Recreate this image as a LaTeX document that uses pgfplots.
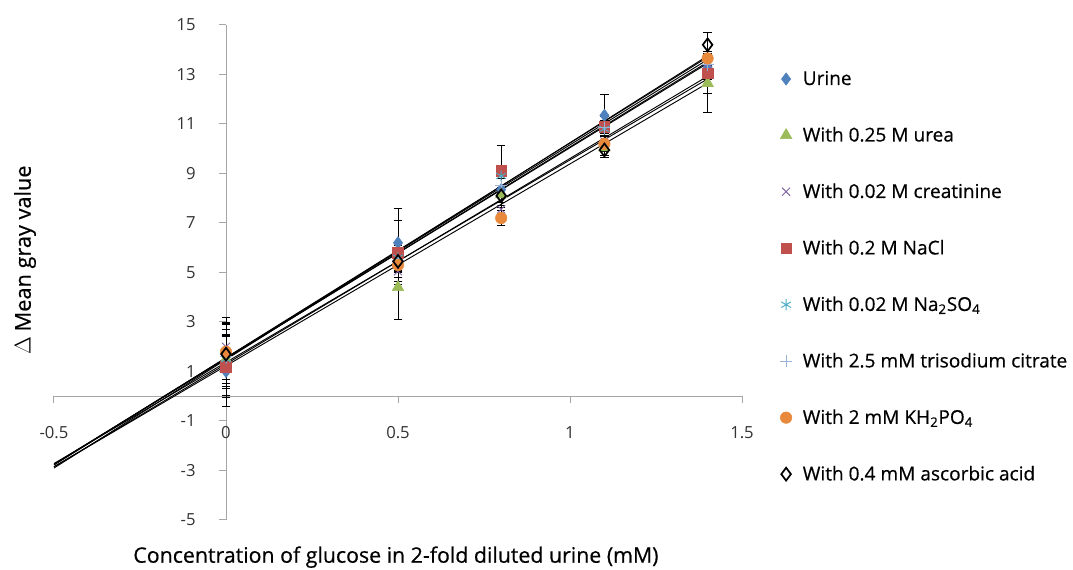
\documentclass[border=0pt]{standalone}
\usepackage{fontspec}
\setmainfont{Open Sans}
\newfontfamily\medfont{Open Sans}[FakeBold=0.5]
\usepackage{pgfplots}
\usepackage{pgfplotstable}
\pgfplotsset{compat=1.18}
\definecolor{cUrine}{HTML}{4F81BD}
\definecolor{cUrea}{HTML}{9BBB59}
\definecolor{cCrea}{HTML}{8064A2}
\definecolor{cNaCl}{HTML}{C0504D}
\definecolor{cSulf}{HTML}{4BACC6}
\definecolor{cCitr}{HTML}{98B2D8}
\definecolor{cPhos}{HTML}{E8893B}
\definecolor{axgray}{HTML}{A6A6A6}

\pgfplotstableread{
x y e
0 1.0 1.4
0.5 6.2 1.4
0.8 8.35 0.7
1.1 11.35 0.85
1.4 13.3 0.5
}\urine
\pgfplotstableread{
x y e
0 1.5 1.2
0.5 4.4 1.3
0.8 8.15 0.3
1.1 10.05 0.3
1.4 12.65 1.2
}\urea
\pgfplotstableread{
x y e
0 2.0 1.0
0.5 5.05 0.4
0.8 7.55 0.3
1.1 10.3 0.3
1.4 13.45 0.4
}\crea
\pgfplotstableread{
x y e
0 1.2 1.25
0.5 5.8 1.3
0.8 9.1 1.05
1.1 10.9 0.4
1.4 13.05 0.8
}\nacl
\pgfplotstableread{
x y e
0 1.5 1.45
0.5 5.6 0.5
0.8 8.9 0.4
1.1 10.8 0.3
1.4 13.5 0.3
}\sulf
\pgfplotstableread{
x y e
0 1.6 0.9
0.5 5.5 0.3
0.8 8.5 0.3
1.1 10.85 0.3
1.4 13.4 0.3
}\citr
\pgfplotstableread{
x y e
0 1.8 1.4
0.5 5.3 0.3
0.8 7.2 0.3
1.1 10.2 0.3
1.4 13.65 0.3
}\phos
\pgfplotstableread{
x y e
0 1.7 1.2
0.5 5.45 0.4
0.8 8.1 0.4
1.1 9.95 0.3
1.4 14.2 0.5
}\ascb

\pgfplotsset{
  errs/.style={
    error bars/.cd, y dir=both, y explicit,
    error bar style={black, line width=0.6pt, solid},
    error mark options={black, rotate=90, mark size=3.2pt, line width=0.6pt, solid},
  },
  tl/.style={black, line width=0.7pt, forget plot, no marks},
}

\begin{document}
\begin{tikzpicture}
\useasboundingbox (-40.5pt,-37.5pt) rectangle (764.25pt,390pt);
\begin{axis}[
  at={(0,0)}, anchor=south west,
  width=516pt, height=371.25pt, scale only axis,
  xmin=-0.5, xmax=1.5, ymin=-5, ymax=15,
  axis lines=middle,
  axis line style={draw=axgray, line width=0.75pt, -},
  xtick={-0.5,0,0.5,1,1.5},
  ytick={-5,-3,-1,1,3,5,7,9,11,13,15},
  hide obscured x ticks=false, hide obscured y ticks=false,
  tick align=outside, major tick length=5.25pt,
  tick style={axgray, line width=0.75pt},
  /pgf/number format/assume math mode=true,
  tick label style={font=\fontsize{12.5}{14}\selectfont, text=black!80},
  xticklabel style={yshift=-14pt},
  yticklabel style={xshift=-14pt},
  xlabel={Concentration of glucose in 2-fold diluted urine (mM)},
  ylabel={$\Delta$ Mean gray value},
  xlabel style={at={(axis description cs:0.497,-0.075)}, anchor=center, font=\medfont\fontsize{16}{18}\selectfont},
  ylabel style={at={(axis description cs:-0.042,0.525)}, anchor=center, rotate=90, font=\medfont\fontsize{16.3}{18}\selectfont},
  clip=false,
  legend style={at={(1.055,0.913)}, anchor=north west, draw=none, fill=none,
    font=\medfont\fontsize{14.3}{16}\selectfont, row sep=26pt, column sep=6pt, inner sep=0pt},
  legend cell align=left,
]
% trend lines
\addplot[tl] coordinates {(-0.5,-2.78) (1.4,13.7)};
\addplot[tl] coordinates {(-0.5,-2.85) (1.4,12.65)};
\addplot[tl] coordinates {(-0.5,-2.72) (1.4,12.82)};
\addplot[tl] coordinates {(-0.5,-2.76) (1.4,13.5)};
\addplot[tl] coordinates {(-0.5,-2.75) (1.4,13.6)};
\addplot[tl] coordinates {(-0.5,-2.74) (1.4,13.45)};
\addplot[tl] coordinates {(-0.5,-2.85) (1.4,12.93)};
\addplot[tl] coordinates {(-0.5,-2.9) (1.4,13.75)};
% data
\addplot[only marks, mark=diamond*, mark size=4.6pt, color=cUrine, errs] table[x=x,y=y,y error=e] {\urine};
\addlegendentry{Urine}
\addplot[only marks, mark=triangle*, mark size=5pt, color=cUrea, errs] table[x=x,y=y,y error=e] {\urea};
\addlegendentry{With 0.25 M urea}
\addplot[only marks, mark=x, mark size=4.2pt, color=cCrea, mark options={line width=0.7pt}, errs] table[x=x,y=y,y error=e] {\crea};
\addlegendentry{With 0.02 M creatinine}
\addplot[only marks, mark=square*, mark size=4pt, color=cNaCl, errs] table[x=x,y=y,y error=e] {\nacl};
\addlegendentry{With 0.2 M NaCl}
\addplot[only marks, mark=asterisk, mark size=4.2pt, color=cSulf, mark options={line width=0.7pt}, errs] table[x=x,y=y,y error=e] {\sulf};
\addlegendentry{With 0.02 M Na\textsubscript{2}SO\textsubscript{4}}
\addplot[only marks, mark=+, mark size=4.5pt, color=cCitr, mark options={line width=0.7pt}, errs] table[x=x,y=y,y error=e] {\citr};
\addlegendentry{With 2.5 mM trisodium citrate}
\addplot[only marks, mark=*, mark size=4.3pt, color=cPhos, errs] table[x=x,y=y,y error=e] {\phos};
\addlegendentry{With 2 mM KH\textsubscript{2}PO\textsubscript{4}}
\addplot[only marks, mark=diamond, mark size=4.8pt, color=black, mark options={fill=white, line width=1.3pt}, errs] table[x=x,y=y,y error=e] {\ascb};
\addlegendentry{With 0.4 mM ascorbic acid}
\end{axis}
\end{tikzpicture}
\end{document}
